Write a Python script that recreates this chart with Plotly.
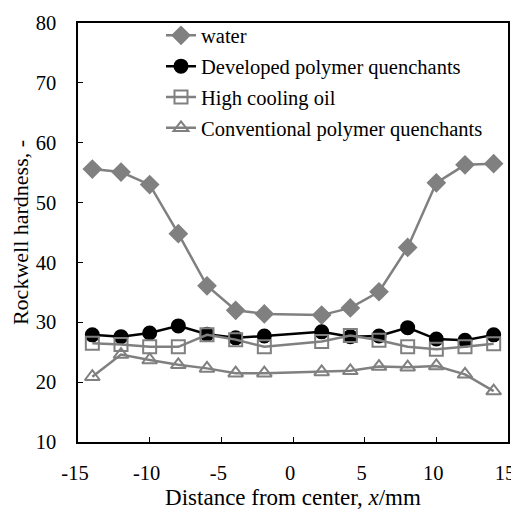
import plotly.graph_objects as go

x = [-14, -12, -10, -8, -6, -4, -2, 2, 4, 6, 8, 10, 12, 14]
water = [55.6, 55.1, 53.0, 44.8, 36.1, 32.0, 31.4, 31.2, 32.4, 35.1, 42.5, 53.3, 56.3, 56.5]
developed = [27.9, 27.6, 28.2, 29.4, 28.0, 27.4, 27.7, 28.4, 27.6, 27.7, 29.1, 27.2, 27.0, 27.9]
oil = [26.5, 26.3, 25.9, 25.9, 27.9, 27.1, 25.9, 26.8, 27.8, 27.0, 25.9, 25.5, 25.9, 26.4]
conventional = [20.9, 24.6, 23.7, 22.9, 22.3, 21.5, 21.5, 21.7, 21.9, 22.6, 22.5, 22.7, 21.3, 18.5]

x_ticks = [-15, -10, -5, 0, 5, 10, 15]
x_ticktext = ["-15", "-10", "-5", "0", "5", "10", "15"]
y_ticks = [10, 20, 30, 40, 50, 60, 70, 80]

names = ["water", "Developed polymer quenchants", "High cooling oil", "Conventional polymer quenchants"]
series = [water, developed, oil, conventional]

gray = "#808080"
styles = [
    dict(color=gray, symbol="diamond", mcolor=gray, lcolor=gray, size=13),
    dict(color="#000000", symbol="circle", mcolor="#000000", lcolor="#000000", size=13),
    dict(color=gray, symbol="square-open", mcolor=gray, lcolor=gray, size=13),
    dict(color=gray, symbol="triangle-up-open", mcolor=gray, lcolor=gray, size=13),
]

fig = go.Figure()
for i, (n, s, st) in enumerate(zip(names, series, styles)):
    fig.add_trace(go.Scatter(
        x=x, y=s, name=n, mode="lines+markers",
        legendgroup=f"g{i}",
        line=dict(color=st["color"], width=2.5),
        marker=dict(symbol=st["symbol"], size=st["size"], color=st["mcolor"],
                    line=dict(color=st["lcolor"], width=2)),
    ))

font = "Liberation Serif"
fig.update_layout(
    width=511, height=502,
    margin=dict(l=70, r=11, t=7, b=68),
    paper_bgcolor="white", plot_bgcolor="white",
    font=dict(family=font, size=20.5, color="#000000"),
    showlegend=True,
    legend=dict(x=0.193, y=1.018, xanchor="left", yanchor="top",
                font=dict(family=font, size=20.5, color="#000000"),
                bgcolor="rgba(0,0,0,0)", traceorder="grouped", tracegroupgap=1.2,
                itemwidth=30),
    xaxis=dict(range=[-15, 15], tickvals=x_ticks, ticktext=x_ticktext,
               ticklabelshift=-3, ticklabelstandoff=12, ticklabeloverflow="allow",
               automargin=False,
               ticks="inside", ticklen=5, tickcolor="#000000",
               showline=True, linecolor="#000000", linewidth=1.5, mirror=True,
               showgrid=False, zeroline=False,
               title=dict(text="Distance from center, <i>x</i>/mm", standoff=6,
                          font=dict(family=font, size=23))),
    yaxis=dict(range=[10, 80], tickvals=y_ticks, ticklabelstandoff=16,
               ticklabeloverflow="allow", automargin=False,
               ticks="inside", ticklen=5, tickcolor="#000000",
               showline=True, linecolor="#000000", linewidth=1.5, mirror=True,
               showgrid=False, zeroline=False,
               title=dict(text="Rockwell hardness, -", standoff=6,
                          font=dict(family=font, size=22))),
)

fig.write_html("out.html")
